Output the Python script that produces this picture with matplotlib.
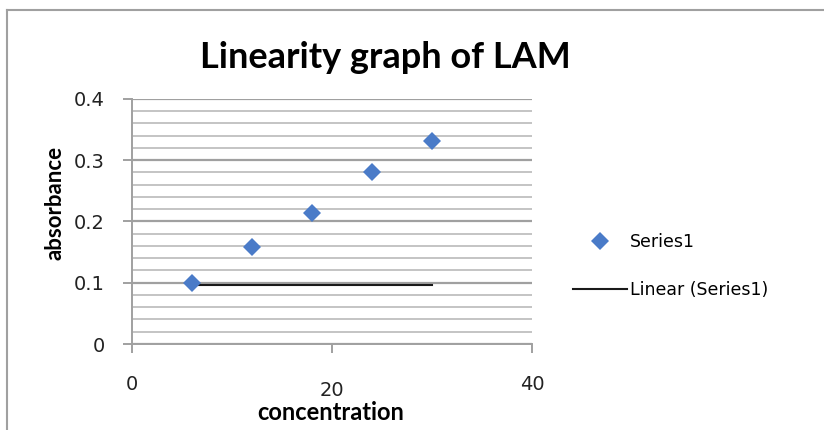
import numpy as np
import matplotlib
matplotlib.use('Agg')
from matplotlib import pyplot as plt
from matplotlib.lines import Line2D

# data
concentration = [6, 12, 18, 24, 30]
absorbance = [0.099, 0.159, 0.2135, 0.280, 0.331]
trend_x = [6, 30]
trend_y = [0.096, 0.096]
x_ticks = [0, 20, 40]
y_ticks = [0, 0.1, 0.2, 0.3, 0.4]
y_ticklabels = ['0', '0.1', '0.2', '0.3', '0.4']

fig = plt.figure(figsize=(8.24, 4.30), dpi=100)
ax = fig.add_axes([0.1602, 0.2, 0.4854, 0.5698])

ax.plot(concentration, absorbance, 'D', color='#4a7bc8', markersize=9.5,
        markeredgewidth=0, label='Series1', zorder=3)
ax.plot(trend_x, trend_y, '-', color='#1a1a1a', linewidth=1.5,
        label='Linear (Series1)', zorder=2)

ax.set_xlim(0, 40)
ax.set_ylim(0, 0.4)
ax.set_xticks(x_ticks)
ax.set_yticks(y_ticks)
ax.set_yticklabels(y_ticklabels)
ax.set_yticks(np.arange(0, 0.4001, 0.02), minor=True)

ax.grid(True, which='major', axis='y', color='#a0a0a0', linewidth=1.6)
ax.grid(True, which='minor', axis='y', color='#b4b4b4', linewidth=1.1)
ax.set_axisbelow(True)

for s in ['top', 'right']:
    ax.spines[s].set_visible(False)
for s in ['left', 'bottom']:
    ax.spines[s].set_color('#a0a0a0')
    ax.spines[s].set_linewidth(1.4)

ax.tick_params(axis='y', which='major', direction='out', length=6.5,
               color='#a0a0a0', width=1.4, labelsize=14, pad=13,
               labelcolor='#222222')
ax.tick_params(axis='y', which='minor', length=0)
ax.tick_params(axis='x', which='major', direction='out', length=6.5,
               color='#a0a0a0', width=1.4, labelsize=14, pad=16,
               labelcolor='#222222')
# the "20" label sits a little lower in the original
ax.xaxis.get_major_ticks()[1].set_pad(20)

ax.set_xlabel('concentration', fontsize=17, fontweight='bold', family='Lato')
ax.set_ylabel('absorbance', fontsize=16, fontweight='bold', family='Lato')
ax.xaxis.label.set_va('center')
ax.yaxis.label.set_va('center')
ax.xaxis.set_label_coords(331 / 824, 1 - 412 / 430, transform=fig.transFigure)
ax.yaxis.set_label_coords(55 / 824, 1 - 203 / 430, transform=fig.transFigure)

fig.text(385 / 824, 1 - 58 / 430, 'Linearity graph of LAM', fontsize=26,
         fontweight='bold', family='Lato', ha='center', va='center')

ax.legend(loc='center left', bbox_to_anchor=(573 / 824, 1 - 266 / 430),
          bbox_transform=fig.transFigure, frameon=False, borderpad=0,
          borderaxespad=0, fontsize=12.5, handlelength=3.1,
          handletextpad=0.2, labelspacing=1.72)

# outer chart border (only top and left show in the crop)
fig.add_artist(Line2D([0.0085, 0.0085], [0.0, 0.977], transform=fig.transFigure,
                      color='#a0a0a0', linewidth=1.5))
fig.add_artist(Line2D([0.0085, 1.0], [0.977, 0.977], transform=fig.transFigure,
                      color='#a0a0a0', linewidth=1.5))

fig.savefig('out.png', dpi=100)
